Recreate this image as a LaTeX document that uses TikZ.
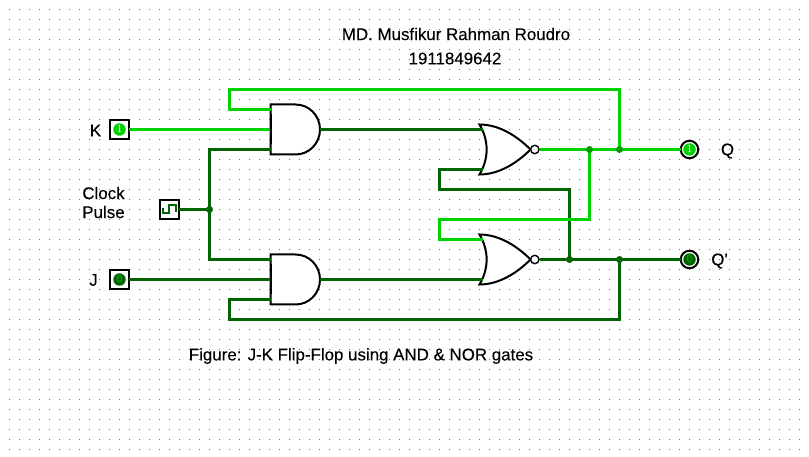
\documentclass[tikz,border=0pt]{standalone}
\usepackage{fontspec}
\setmainfont[FakeBold=0.12]{Liberation Sans}
\newfontfamily\digitfont{Liberation Serif}
\definecolor{wirehi}{HTML}{00D200}
\definecolor{wirelo}{HTML}{006400}
\definecolor{junchi}{HTML}{009A00}
\definecolor{griddot}{HTML}{707070}
\tikzset{
  wireon/.style={draw=wirehi,line width=3pt,line join=miter},
  wireoff/.style={draw=wirelo,line width=3pt,line join=miter},
  gateline/.style={draw=black,line width=2pt,line join=miter},
  label/.style={inner sep=0pt,font=\fontsize{16.9}{18}\selectfont,text=black},
  inbox/.style={draw=black,line width=2pt,fill=white,minimum size=19pt,inner sep=0pt,outer sep=0pt},
  outring/.style={circle,draw=black,line width=2pt,fill=white,minimum size=17.5pt,inner sep=0pt,outer sep=0pt},
  disc/.style={circle,inner sep=0pt,minimum size=12.5pt,text height=7pt,text depth=0pt,font=\digitfont\fontsize{11}{11}\selectfont},
  discon/.style={disc,fill=wirehi,text=white},
  discoff/.style={disc,fill=wirelo,text=wirehi!80!wirelo},
  junchot/.style={circle,fill=junchi,minimum size=7pt,inner sep=0pt},
  junccold/.style={circle,fill=wirelo,minimum size=7pt,inner sep=0pt},
  andgate/.pic={
    \path[gateline,fill=white] (0,0) -- (25,0) .. controls (38.5,0) and (49.5,11) .. (49.5,25)
      .. controls (49.5,39) and (38.5,50) .. (25,50) -- (0,50) -- cycle;
    \coordinate (-a) at (0,5);
    \coordinate (-b) at (0,25);
    \coordinate (-c) at (0,45);
    \coordinate (-o) at (49.5,25);
  },
  norgate/.pic={
    \path[gateline,fill=white] (0,0) .. controls (20,0) and (38,12) .. (51,25)
      .. controls (38,38) and (20,50) .. (0,50)
      .. controls (9.5,34) and (9.5,16) .. (0,0) -- cycle;
    \draw[black,line width=1.4pt,fill=white] (55.3,25) circle (4.2);
    \coordinate (-a) at (3,5);
    \coordinate (-b) at (3,45);
    \coordinate (-o) at (60,25);
  }
}
\begin{document}
\begin{tikzpicture}[x=1pt,y=-1pt]
\useasboundingbox[fill=white] (-0.5,-0.5) rectangle (808.5,456.5);
% background grid
\foreach \gx in {9,19,...,799}
  \foreach \gy in {9,19,...,449}
    \fill[griddot] (\gx-0.5,\gy-0.5) rectangle +(1,1);
% labels
\node[label] (title) at (455.5,33.5) {MD. Musfikur Rahman Roudro};
\node[label] (idno) at (454.5,58) {1911849642};
\node[label] (caption) at (360.5,355.5) {Figure: J-K Flip-Flop using AND \& NOR gates};
\node[label] (lk) at (95,130) {K};
\node[label] (lclock) at (103,192.5) {Clock};
\node[label] (lpulse) at (103,211.5) {Pulse};
\node[label] (lj) at (93,279.5) {J};
\node[label] (lq) at (727,150.5) {Q};
\node[label] (lqn) at (719,260.5) {Q\textquotesingle};
% inputs and outputs
\node[inbox] (k) at (119,129) {};
\node[inbox] (clk) at (169,209) {};
\node[inbox] (j) at (119,279) {};
\node[outring] (q) at (689,149) {};
\node[outring] (qn) at (689,259) {};
% gates
\pic (and1) at (270,104) {andgate};
\pic (and2) at (270,254) {andgate};
\pic (nor1) at (479,124) {norgate};
\pic (nor2) at (479,234) {norgate};
% junction positions
\coordinate (jclk) at (209,209);
\coordinate (jqa) at (589,149);
\coordinate (jqb) at (619,149);
\coordinate (jna) at (569,259);
\coordinate (jnb) at (619,259);
% bend points
\coordinate (lt) at (229,89);
\coordinate (lb) at (229,319);
\coordinate (fa) at (439,219);
\coordinate (fb) at (439,189);
% dark wires
\draw[wireoff] (clk.east) -- (jclk);
\draw[wireoff] (and1-c) -| (jclk) |- (and2-a);
\draw[wireoff] (j.east) -- (and2-b);
\draw[wireoff] (and1-o) -- (nor1-a);
\draw[wireoff] (and2-o) -- (nor2-b);
\draw[wireoff] (nor2-o) -- (qn.west);
\draw[wireoff] (jna) |- (fb) |- (nor1-b);
\draw[wireoff] (jnb) |- (lb) |- (and2-c);
% light wires
\draw[wireon] (k.east) -- (and1-b);
\draw[wireon] (nor1-o) -- (q.west);
\draw[wireon] (jqb) |- (lt) |- (and1-a);
\draw[wireon] (jqa) |- (fa) |- (nor2-a);
% redraw gate outlines' input edge over wire ends
\draw[gateline] ([yshift=-5pt]and1-a) -- ([yshift=5pt]and1-c);
\draw[gateline] ([yshift=-5pt]and2-a) -- ([yshift=5pt]and2-c);
% junctions
\node[junccold] (d1) at (jclk) {};
\node[junchot] (d2) at (jqa) {};
\node[junchot] (d3) at (jqb) {};
\node[junccold] (d4) at (jna) {};
\node[junccold] (d5) at (jnb) {};
% indicators
\node[discon] (kv) at (k) {1};
\node[discoff] (jv) at (j) {0};
\node[discon] (qv) at (q) {1};
\node[discoff] (qnv) at (qn) {0};
\draw[draw=wirelo,line width=2pt,line join=miter]
  (162.5,208) -- (162.5,212.5) -- (168.5,212.5) -- (168.5,205) -- (175,205) -- (175,212);
\end{tikzpicture}
\end{document}
